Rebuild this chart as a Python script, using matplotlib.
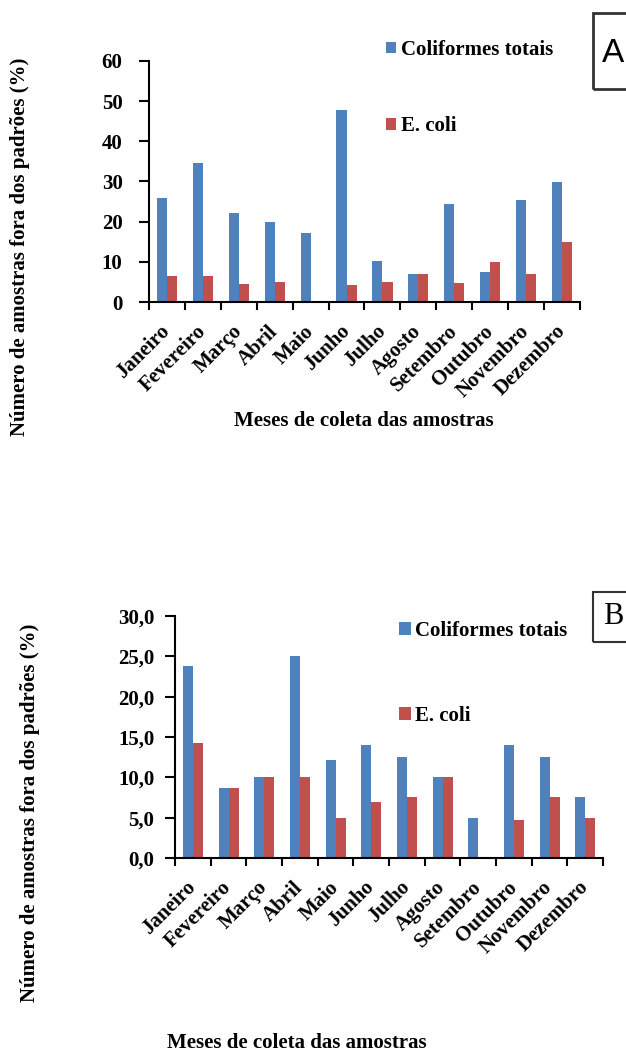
import matplotlib
matplotlib.use("Agg")
import matplotlib.pyplot as plt
from matplotlib.patches import Rectangle
import numpy as np

meses = ['Janeiro', 'Fevereiro', 'Março', 'Abril', 'Maio', 'Junho', 'Julho',
         'Agosto', 'Setembro', 'Outubro', 'Novembro', 'Dezembro']

# painel A
coli_tot_A = [26.0, 34.6, 22.2, 20.0, 17.3, 47.7, 10.2, 7.0, 24.4, 7.5, 25.5, 29.8]
ecoli_A = [6.5, 6.5, 4.5, 5.0, 0, 4.3, 5.0, 7.0, 4.8, 9.9, 7.0, 14.9]

# painel B
coli_tot_B = [23.8, 8.7, 10.0, 25.0, 12.2, 14.0, 12.5, 10.0, 5.0, 14.0, 12.5, 7.5]
ecoli_B = [14.2, 8.7, 10.0, 10.0, 4.9, 7.0, 7.5, 10.0, 0, 4.7, 7.5, 5.0]

azul = '#4F81BD'
verm = '#C0504D'
fs = 15

plt.rcParams['font.family'] = ['Liberation Serif', 'DejaVu Serif']
plt.rcParams['font.weight'] = 'bold'

fig = plt.figure(figsize=(6.26, 10.53), dpi=100)


def painel(ax, coli, ecoli, ymax, step, fmt, ypad):
    x = np.arange(len(meses))
    w = 0.28
    ax.bar(x - w/2, coli, w, color=azul, label='Coliformes totais')
    ax.bar(x + w/2, ecoli, w, color=verm, label='E. coli')
    ax.set_xlim(-0.5, len(meses) - 0.5)
    ax.set_ylim(0, ymax)
    ax.set_yticks(np.arange(0, ymax + 0.01, step))
    ax.set_yticklabels([fmt(v) for v in np.arange(0, ymax + 0.01, step)], fontsize=fs, fontweight='bold')
    ax.set_xticks(np.arange(len(meses) + 1) - 0.5)
    ax.set_xticklabels([])
    ax.set_xticks(x, minor=True)
    ax.set_xticklabels(meses, minor=True, rotation=45, ha='right', va='center',
                       rotation_mode='anchor', fontsize=fs, fontweight='bold')
    ax.tick_params(axis='x', which='minor', length=0, pad=19)
    ax.tick_params(axis='x', which='major', direction='out', length=6, width=1.5)
    ax.tick_params(axis='y', which='major', direction='out', length=7, width=1.5, pad=ypad)
    ax.spines['top'].set_visible(False)
    ax.spines['right'].set_visible(False)
    ax.spines['left'].set_linewidth(1.5)
    ax.spines['bottom'].set_linewidth(1.5)


axA = fig.add_axes([0.238, 0.7132, 0.6885, 0.2289])
painel(axA, coli_tot_A, ecoli_A, 60, 10, lambda v: '%d' % v, 12)
axA.set_ylabel('Número de amostras fora dos padrões (%)', fontsize=fs, fontweight='bold')
axA.yaxis.set_label_coords(-0.277, 0.23)
axA.set_xlabel('Meses de coleta das amostras', fontsize=fs, fontweight='bold')
axA.xaxis.set_label_coords(0.499, -0.452)
axA.legend(loc='upper left', bbox_to_anchor=(386/626, 1 - 40/1053), bbox_transform=fig.transFigure,
           frameon=False, borderpad=0, borderaxespad=0, handlelength=0.48, handleheight=0.48,
           handletextpad=0.25, labelspacing=2.7, prop={'size': fs, 'weight': 'bold'})

axB = fig.add_axes([0.2796, 0.1852, 0.6837, 0.2298])
painel(axB, coli_tot_B, ecoli_B, 30, 5, lambda v: ('%.1f' % v).replace('.', ','), 8)
axB.set_ylabel('Número de amostras fora dos padrões (%)', fontsize=fs, fontweight='bold')
axB.yaxis.set_label_coords(-0.315, 0.186)
axB.set_xlabel('Meses de coleta das amostras', fontsize=fs, fontweight='bold')
axB.xaxis.set_label_coords(0.285, -0.723)
axB.legend(loc='upper left', bbox_to_anchor=(399/626, 1 - 621/1053), bbox_transform=fig.transFigure,
           frameon=False, borderpad=0, borderaxespad=0, handlelength=0.58, handleheight=0.58,
           handletextpad=0.2, labelspacing=3.1, prop={'size': fs, 'weight': 'bold'})

# caixas com as letras
fig.patches.append(Rectangle((593/626, 1 - 89/1053), 0.1, 76/1053, transform=fig.transFigure,
                             fill=False, edgecolor='#333333', linewidth=2))
fig.text(613/626, 1 - 53/1053, 'A', fontsize=24, fontweight='normal', ha='center', va='center',
         family=['Liberation Sans Narrow', 'Liberation Sans', 'DejaVu Sans'])
fig.patches.append(Rectangle((593/626, 1 - 642/1053), 0.1, 50/1053, transform=fig.transFigure,
                             fill=False, edgecolor='#333333', linewidth=1.5))
fig.text(613/626, 1 - 617/1053, 'B', fontsize=22, fontweight='normal', ha='center', va='center')

fig.savefig('out.png', dpi=100)
